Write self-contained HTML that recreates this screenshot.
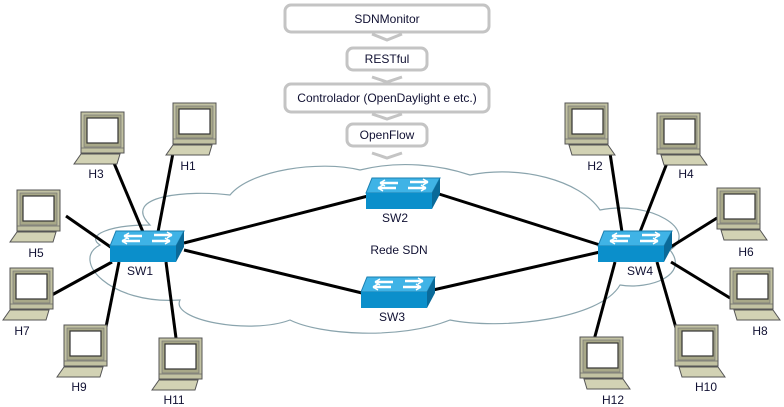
<!DOCTYPE html>
<html><head><meta charset="utf-8"><style>
html,body{margin:0;padding:0;background:#fff}
svg{display:block}
text{font-family:"Liberation Sans",sans-serif;font-size:12px;fill:#111133}
</style></head><body>
<svg width="784" height="407" viewBox="0 0 784 407" xmlns="http://www.w3.org/2000/svg">
<defs>
<g id="pc">
  <rect x="0" y="0" width="43" height="41" fill="#c2c2a2" stroke="#555" stroke-width="1"/>
  <rect x="3" y="3" width="37" height="32" fill="#a8a888" stroke="#777" stroke-width="0.7"/>
  <rect x="7" y="6" width="31" height="25" fill="#fff" stroke="#333" stroke-width="1.2"/>
  <line x1="0" y1="36" x2="43" y2="36" stroke="#666" stroke-width="0.8"/>
  <polygon points="4,42 43,42 50,52 7,52" fill="#d2d2b4" stroke="#555" stroke-width="1"/>
</g>
<g id="pcl">
  <rect x="7" y="0" width="43" height="41" fill="#c2c2a2" stroke="#555" stroke-width="1"/>
  <rect x="10" y="3" width="37" height="32" fill="#a8a888" stroke="#777" stroke-width="0.7"/>
  <rect x="13" y="6" width="31" height="25" fill="#fff" stroke="#333" stroke-width="1.2"/>
  <line x1="7" y1="36" x2="50" y2="36" stroke="#666" stroke-width="0.8"/>
  <polygon points="7,42 46,42 43,52 0,52" fill="#d2d2b4" stroke="#555" stroke-width="1"/>
</g>
<g id="sw">
  <polygon points="6,0 74,0 66,15 0,15" fill="#3fb3e6" stroke="#1a7fb0" stroke-width="1"/>
  <rect x="0" y="15" width="66" height="16" fill="#0b8fcb"/>
  <polygon points="66,15 74,0 74,16 66,31" fill="#0a6a99"/>
  <path d="M14,5 h18 M44,4 h18 M12,10 h18 M42,10 h18" stroke="#fff" stroke-width="2.5"/>
  <path d="M14,5 l5,-3 M14,5 l5,3 M62,4 l-5,-3 M62,4 l-5,3 M12,10 l5,-3 M12,10 l5,3 M60,10 l-5,-3 M60,10 l-5,3" stroke="#fff" stroke-width="1.5"/>
</g>
</defs>

<!-- cloud -->
<g fill="none" stroke="#8aa4ad" stroke-width="1.2">
<path d="M150,225 C120,195 190,190 230,195 C250,170 320,160 360,170 C400,160 440,165 470,175 C520,165 580,180 600,210 C650,200 700,230 670,250 C690,275 650,290 620,285 C600,320 500,330 450,320 C400,340 320,335 290,320 C250,335 170,320 180,300 C110,305 70,260 100,245 C85,235 110,225 150,225 Z"/>
</g>

<!-- top stack -->
<g fill="none" stroke="#c4c4c4" stroke-width="3">
<rect x="285" y="5" width="204" height="27" rx="6"/>
<rect x="285" y="84" width="204" height="28" rx="6"/>
<rect x="347" y="48" width="80" height="22" rx="6"/>
<rect x="347" y="124" width="80" height="22" rx="6"/>
<path d="M372,34 L387,40 L402,34 M372,77 L387,82 L402,77 M372,114 L387,119 L402,114 M372,153 L387,158 L402,153"/>
</g>
<text x="387" y="23" text-anchor="middle">SDNMonitor</text>
<text x="387" y="63" text-anchor="middle">RESTful</text>
<text x="387" y="102" text-anchor="middle">Controlador (OpenDaylight e etc.)</text>
<text x="387" y="139" text-anchor="middle">OpenFlow</text>

<!-- links -->
<g stroke="#000" stroke-width="3">
<line x1="114" y1="163" x2="143" y2="232"/>
<line x1="173" y1="153" x2="158" y2="232"/>
<line x1="66" y1="216" x2="112" y2="248"/>
<line x1="50" y1="296" x2="112" y2="262"/>
<line x1="105" y1="332" x2="119" y2="262"/>
<line x1="176" y1="338" x2="166" y2="262"/>
<line x1="184" y1="243" x2="368" y2="196"/>
<line x1="184" y1="250" x2="362" y2="293"/>
<line x1="439" y1="194" x2="600" y2="245"/>
<line x1="433" y1="290" x2="600" y2="252"/>
<line x1="610" y1="153" x2="622" y2="232"/>
<line x1="667" y1="163" x2="640" y2="232"/>
<line x1="717" y1="218" x2="669" y2="248"/>
<line x1="730" y1="298" x2="671" y2="262"/>
<line x1="676" y1="328" x2="657" y2="262"/>
<line x1="594" y1="340" x2="615" y2="262"/>
</g>

<!-- PCs -->
<use href="#pcl" x="74" y="112"/>
<use href="#pcl" x="166" y="103"/>
<use href="#pcl" x="10" y="190"/>
<use href="#pcl" x="3" y="268"/>
<use href="#pcl" x="57" y="325"/>
<use href="#pcl" x="152" y="338"/>
<use href="#pc" x="565" y="103"/>
<use href="#pc" x="657" y="113"/>
<use href="#pc" x="717" y="188"/>
<use href="#pc" x="730" y="268"/>
<use href="#pc" x="675" y="325"/>
<use href="#pc" x="580" y="337"/>

<!-- switches -->
<use href="#sw" x="110" y="231"/>
<use href="#sw" x="366" y="178"/>
<use href="#sw" x="361" y="277"/>
<use href="#sw" x="598" y="231"/>

<!-- labels -->
<text x="96" y="178" text-anchor="middle">H3</text>
<text x="188" y="170" text-anchor="middle">H1</text>
<text x="36" y="257" text-anchor="middle">H5</text>
<text x="22" y="335" text-anchor="middle">H7</text>
<text x="79" y="391" text-anchor="middle">H9</text>
<text x="174" y="404" text-anchor="middle">H11</text>
<text x="595" y="170" text-anchor="middle">H2</text>
<text x="686" y="178" text-anchor="middle">H4</text>
<text x="746" y="256" text-anchor="middle">H6</text>
<text x="760" y="335" text-anchor="middle">H8</text>
<text x="706" y="391" text-anchor="middle">H10</text>
<text x="613" y="404" text-anchor="middle">H12</text>
<text x="140" y="275" text-anchor="middle">SW1</text>
<text x="395" y="222" text-anchor="middle">SW2</text>
<text x="392" y="321" text-anchor="middle">SW3</text>
<text x="640" y="275" text-anchor="middle">SW4</text>
<text x="399" y="254" text-anchor="middle">Rede SDN</text>
</svg>
</body></html>
